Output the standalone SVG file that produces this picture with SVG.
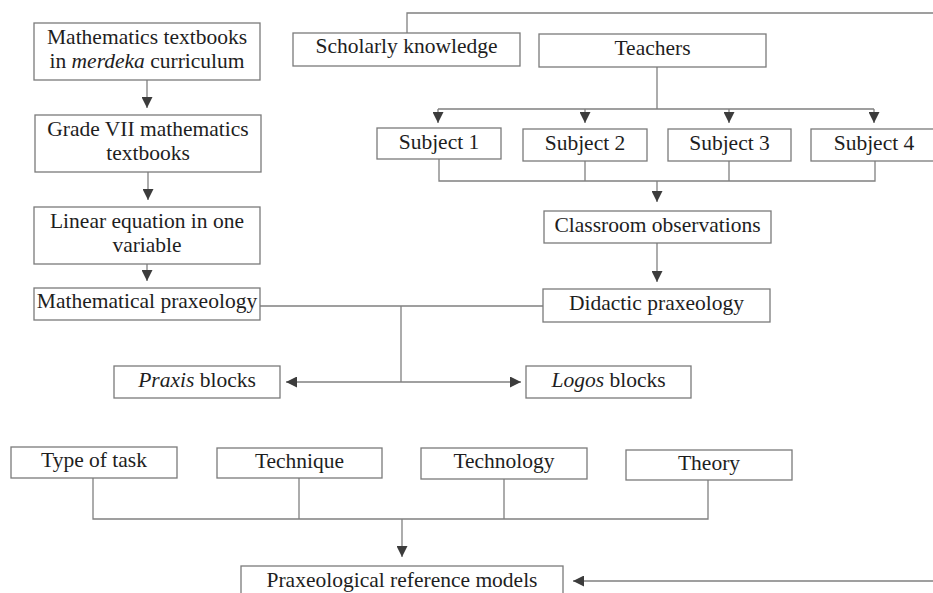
<svg xmlns="http://www.w3.org/2000/svg" width="933" height="593" viewBox="0 0 933 593">
  <style>
    .box { fill: #ffffff; stroke: #7a7a7a; stroke-width: 1.3; }
    .lbl { font-family: "Liberation Serif", "Times New Roman", serif; font-size: 21.5px; fill: #1e1e1e; text-anchor: middle; }
    .wire { fill: none; stroke: #808080; stroke-width: 1.3; }
    .arr { marker-end: url(#head); }
  </style>
  <defs>
    <marker id="head" viewBox="0 0 10 10" markerUnits="userSpaceOnUse" markerWidth="11" markerHeight="11" refX="10" refY="5" orient="auto">
      <path d="M0,0 L10,5 L0,10 z" fill="#3c3c3c"/>
    </marker>
  </defs>
  <rect width="933" height="593" fill="#ffffff"/>

  <!-- connectors -->
  <g id="connectors">
    <path class="wire arr" d="M147,80 V108"/>
    <path class="wire arr" d="M148,172 V200"/>
    <path class="wire arr" d="M147,264 V281"/>
    <!-- scholarly knowledge loops round the right edge into the reference models -->
    <path class="wire arr" d="M407,33 V13 H945 V581 H573"/>
    <!-- teachers to subjects -->
    <path class="wire" d="M657,67 V109 M438,109 H874"/>
    <path class="wire arr" d="M438,109 V123"/>
    <path class="wire arr" d="M585,109 V123"/>
    <path class="wire arr" d="M729,109 V123"/>
    <path class="wire arr" d="M874,109 V123"/>
    <!-- subjects to classroom observations -->
    <path class="wire" d="M439,159 V181 H875 V161 M585,161 V181 M729,161 V181"/>
    <path class="wire arr" d="M657,181 V202"/>
    <path class="wire arr" d="M657,243 V282"/>
    <!-- praxeologies to praxis / logos blocks -->
    <path class="wire" d="M260,306 H543 M401,306 V382"/>
    <path class="wire arr" d="M401,382 H286"/>
    <path class="wire arr" d="M401,382 H521"/>
    <!-- four components to reference models -->
    <path class="wire" d="M93,478 V519 H708 V480 M299,478 V519 M504,479 V519"/>
    <path class="wire arr" d="M402,519 V557"/>
  </g>

  <g id="n-textbooks">
    <rect class="box" x="34" y="23" width="226" height="57"/>
    <text class="lbl" x="147" y="44">Mathematics textbooks</text>
    <text class="lbl" x="147" y="68">in <tspan font-style="italic">merdeka</tspan> curriculum</text>
  </g>
  <g id="n-grade7">
    <rect class="box" x="35" y="115" width="226" height="57"/>
    <text class="lbl" x="148" y="136">Grade VII mathematics</text>
    <text class="lbl" x="148" y="160">textbooks</text>
  </g>
  <g id="n-linear">
    <rect class="box" x="34" y="207" width="226" height="57"/>
    <text class="lbl" x="147" y="228">Linear equation in one</text>
    <text class="lbl" x="147" y="252">variable</text>
  </g>
  <g id="n-mathprax">
    <rect class="box" x="34" y="288" width="226" height="32"/>
    <text class="lbl" x="147" y="308">Mathematical praxeology</text>
  </g>
  <g id="n-scholarly">
    <rect class="box" x="293" y="33" width="227" height="33"/>
    <text class="lbl" x="406.5" y="53">Scholarly knowledge</text>
  </g>
  <g id="n-teachers">
    <rect class="box" x="539" y="34" width="227" height="33"/>
    <text class="lbl" x="652.5" y="55">Teachers</text>
  </g>
  <g id="n-subject1">
    <rect class="box" x="377" y="128" width="124" height="31"/>
    <text class="lbl" x="439" y="149">Subject 1</text>
  </g>
  <g id="n-subject2">
    <rect class="box" x="523" y="129" width="124" height="32"/>
    <text class="lbl" x="585" y="150">Subject 2</text>
  </g>
  <g id="n-subject3">
    <rect class="box" x="668" y="129" width="123" height="32"/>
    <text class="lbl" x="729.5" y="150">Subject 3</text>
  </g>
  <g id="n-subject4">
    <rect class="box" x="811" y="129" width="126" height="32"/>
    <text class="lbl" x="874" y="150">Subject 4</text>
  </g>
  <g id="n-classroom">
    <rect class="box" x="544" y="211" width="227" height="32"/>
    <text class="lbl" x="657.5" y="232">Classroom observations</text>
  </g>
  <g id="n-didactic">
    <rect class="box" x="543" y="289" width="227" height="33"/>
    <text class="lbl" x="656.5" y="310">Didactic praxeology</text>
  </g>
  <g id="n-praxis">
    <rect class="box" x="114" y="366" width="166" height="32"/>
    <text class="lbl" x="197" y="387"><tspan font-style="italic">Praxis</tspan> blocks</text>
  </g>
  <g id="n-logos">
    <rect class="box" x="526" y="366" width="165" height="32"/>
    <text class="lbl" x="608.5" y="387"><tspan font-style="italic">Logos</tspan> blocks</text>
  </g>
  <g id="n-task">
    <rect class="box" x="11" y="447" width="166" height="31"/>
    <text class="lbl" x="94" y="467">Type of task</text>
  </g>
  <g id="n-technique">
    <rect class="box" x="217" y="448" width="165" height="30"/>
    <text class="lbl" x="299.5" y="468">Technique</text>
  </g>
  <g id="n-technology">
    <rect class="box" x="421" y="448" width="166" height="31"/>
    <text class="lbl" x="504" y="468">Technology</text>
  </g>
  <g id="n-theory">
    <rect class="box" x="626" y="450" width="166" height="30"/>
    <text class="lbl" x="709" y="470">Theory</text>
  </g>
  <g id="n-reference">
    <rect class="box" x="241" y="566" width="322" height="40"/>
    <text class="lbl" x="402" y="587">Praxeological reference models</text>
  </g>
</svg>
